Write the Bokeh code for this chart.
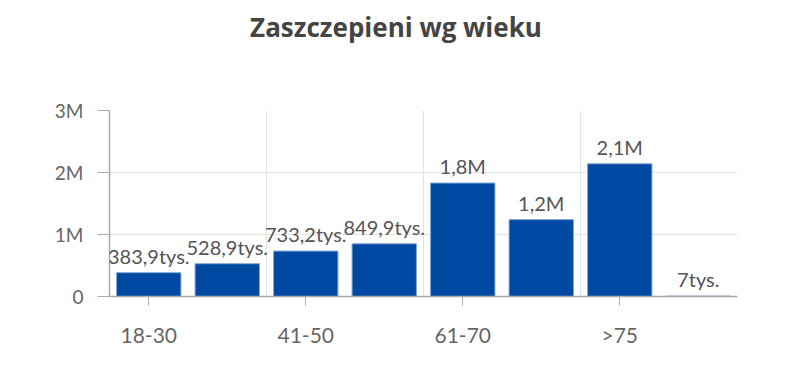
from bokeh.plotting import figure
from bokeh.models import ColumnDataSource, FixedTicker, LabelSet, Range1d, Div
from bokeh.layouts import column
from bokeh.core.properties import value
from bokeh.embed import file_html
from bokeh.resources import INLINE

title_text = "Zaszczepieni wg wieku"
categories = ["18-30", "31-40", "41-50", "51-60", "61-70", "71-75", ">75", "brak danych"]
values = [383900, 528900, 733200, 849900, 1830000, 1240000, 2140000, 7000]
value_labels = ["383,9tys.", "528,9tys.", "733,2tys.", "849,9tys.", "1,8M", "1,2M", "2,1M", "7tys."]
shown_ticks = [0, 2, 4, 6]
y_ticks = [0, 1000000, 2000000, 3000000]
y_tick_labels = ["0", "1M", "2M", "3M"]

FONT = "Lato"
W, H = 792, 301
xs = [i + 0.5 for i in range(len(categories))]
src = ColumnDataSource(dict(x=xs, top=values, lab=value_labels))

title_div = Div(text=title_text, width=792, height=51, margin=(9, 0, 0, 0),
                styles={"text-align": "center", "font-family": "Open Sans", "font-weight": "bold",
                        "font-size": "26px", "color": "#444444", "width": "100%"})

p = figure(width=W, height=H, output_backend="svg", toolbar_location=None,
           x_range=Range1d(0, len(categories)), y_range=Range1d(0, 3000000),
           min_border_left=109, min_border_right=55, min_border_top=50, min_border_bottom=65)
p.outline_line_color = None
p.background_fill_color = "white"
p.border_fill_color = "white"

p.vbar(x="x", top="top", width=0.82, source=src, fill_color="#0049A3", line_color="#7fa6d6", line_width=1)

labels = LabelSet(x="x", y="top", text="lab", source=src, text_align="center", text_baseline="alphabetic",
                  y_offset=9, text_font=value(FONT), text_font_size="20px", text_color="#555555")
p.add_layout(labels)

# x axis
p.xaxis.ticker = FixedTicker(ticks=[t + 0.5 for t in shown_ticks])
p.xaxis.major_label_overrides = {t + 0.5: categories[t] for t in shown_ticks}
p.xaxis.minor_tick_line_color = None
p.xaxis.major_tick_in = 0
p.xaxis.major_tick_out = 9
p.xaxis.major_tick_line_color = "#aaaaaa"
p.xaxis.axis_line_color = "#aaaaaa"
p.xaxis.axis_line_width = 1.5
p.xaxis.major_label_standoff = 16
p.xaxis.major_label_text_font = FONT
p.xaxis.major_label_text_font_size = "21px"
p.xaxis.major_label_text_color = "#666666"

# y axis
p.yaxis.ticker = FixedTicker(ticks=y_ticks)
p.yaxis.major_label_overrides = {t: l for t, l in zip(y_ticks, y_tick_labels)}
p.yaxis.minor_tick_line_color = None
p.yaxis.major_tick_in = 0
p.yaxis.major_tick_out = 12
p.yaxis.major_tick_line_color = "#aaaaaa"
p.yaxis.axis_line_color = "#aaaaaa"
p.yaxis.axis_line_width = 1.5
p.yaxis.major_label_standoff = 14
p.yaxis.major_label_text_font = FONT
p.yaxis.major_label_text_font_size = "19px"
p.yaxis.major_label_text_color = "#666666"

p.xgrid.ticker = FixedTicker(ticks=[2, 4, 6, 8])
p.xgrid.grid_line_color = "#e3e3e3"
p.ygrid.grid_line_color = "#e3e3e3"

layout = column(title_div, p)
open("out.html", "w").write(file_html(layout, INLINE))
